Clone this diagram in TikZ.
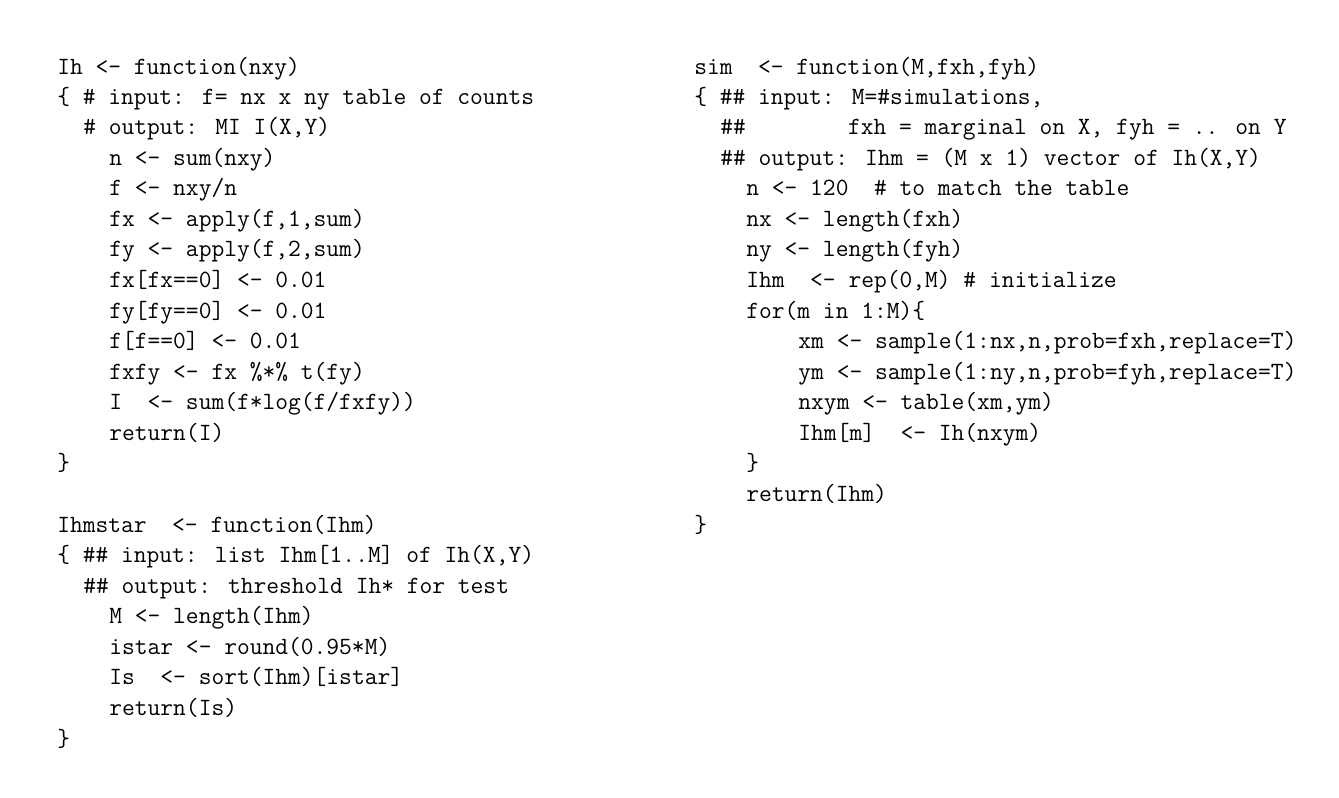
\documentclass[tikz,border=0pt]{standalone}
\usepackage{fontspec}
\begin{document}
\begin{tikzpicture}[x=0.75pt,y=-0.75pt,
  cl/.style={anchor=base west,inner sep=0pt,font=\fontsize{18.6}{22}\selectfont\ttfamily}]
\useasboundingbox (0,0) rectangle (1339,797);
\def\lx{57}\def\rx{694}\def\cw{13.02}
\newcommand\codeln[4]{\node[cl] (#1) at ({#2},{#3}) {#4};}
% left
\codeln{a1}{\lx}{74}{Ih <- function(nxy)}
\codeln{a2}{\lx}{104}{\{ \# input: f= nx x ny table of counts}
\codeln{a3}{\lx+2*\cw}{134}{\# output: MI I(X,Y)}
\codeln{a4}{\lx+4*\cw}{165}{n <- sum(nxy)}
\codeln{a5}{\lx+4*\cw}{195}{f <- nxy/n}
\codeln{a6}{\lx+4*\cw}{226}{fx <- apply(f,1,sum)}
\codeln{a7}{\lx+4*\cw}{256}{fy <- apply(f,2,sum)}
\codeln{a8}{\lx+4*\cw}{287}{fx[fx==0] <- 0.01}
\codeln{a9}{\lx+4*\cw}{318}{fy[fy==0] <- 0.01}
\codeln{a10}{\lx+4*\cw}{348}{f[f==0] <- 0.01}
\codeln{a11}{\lx+4*\cw}{379}{fxfy <- fx \%*\% t(fy)}
\codeln{a12}{\lx+4*\cw}{409}{I\ \ <- sum(f*log(f/fxfy))}
\codeln{a13}{\lx+4*\cw}{440}{return(I)}
\codeln{a14}{\lx}{470}{\}}
\codeln{b1}{\lx}{532}{Ihmstar\ \ <- function(Ihm)}
\codeln{b2}{\lx}{562}{\{ \#\# input: list Ihm[1..M] of Ih(X,Y)}
\codeln{b3}{\lx+2*\cw}{593}{\#\# output: threshold Ih* for test}
\codeln{b4}{\lx+4*\cw}{623}{M <- length(Ihm)}
\codeln{b5}{\lx+4*\cw}{654}{istar <- round(0.95*M)}
\codeln{b6}{\lx+4*\cw}{684}{Is\ \ <- sort(Ihm)[istar]}
\codeln{b7}{\lx+4*\cw}{715}{return(Is)}
\codeln{b8}{\lx}{746}{\}}
% right
\codeln{c1}{\rx}{74}{sim\ \ <- function(M,fxh,fyh)}
\codeln{c2}{\rx}{104}{\{ \#\# input: M=\#simulations,}
\codeln{c3}{\rx+2*\cw}{134}{\#\#\ \ \ \ \ \ \ \ fxh = marginal on X, fyh = .. on Y}
\codeln{c4}{\rx+2*\cw}{165}{\#\# output: Ihm = (M x 1) vector of Ih(X,Y)}
\codeln{c5}{\rx+4*\cw}{195}{n <- 120\ \ \# to match the table}
\codeln{c6}{\rx+4*\cw}{226}{nx <- length(fxh)}
\codeln{c7}{\rx+4*\cw}{256}{ny <- length(fyh)}
\codeln{c8}{\rx+4*\cw}{287}{Ihm\ \ <- rep(0,M) \# initialize}
\codeln{c9}{\rx+4*\cw}{318}{for(m in 1:M)\{}
\codeln{c10}{\rx+8*\cw}{348}{xm <- sample(1:nx,n,prob=fxh,replace=T)}
\codeln{c11}{\rx+8*\cw}{379}{ym <- sample(1:ny,n,prob=fyh,replace=T)}
\codeln{c12}{\rx+8*\cw}{409}{nxym <- table(xm,ym)}
\codeln{c13}{\rx+8*\cw}{440}{Ihm[m]\ \ <- Ih(nxym)}
\codeln{c14}{\rx+4*\cw}{470}{\}}
\codeln{c15}{\rx+4*\cw}{501}{return(Ihm)}
\codeln{c16}{\rx}{532}{\}}
\end{tikzpicture}
\end{document}
